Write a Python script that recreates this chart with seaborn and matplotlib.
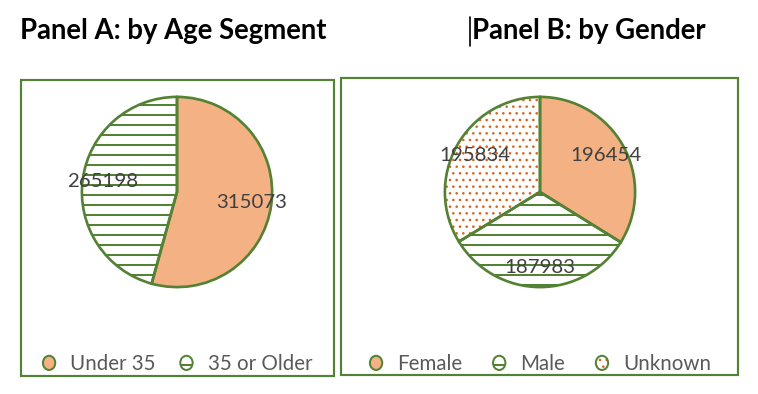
import numpy as np
import pandas as pd
import seaborn as sns
import matplotlib
matplotlib.use("Agg")
import matplotlib.pyplot as plt
from matplotlib import patches as mpatches
from matplotlib.legend_handler import HandlerBase
from matplotlib.lines import Line2D

# ---------------- data ----------------
age_categories = ["Under 35", "35 or Older"]
age_values = [315073, 265198]

gender_categories = ["Female", "Male", "Unknown"]
gender_values = [196454, 187983, 195834]

panel_titles = ["Panel A: by Age Segment", "Panel B: by Gender"]

# ---------------- style ----------------
sns.set_theme(style="white")
plt.rcParams["font.family"] = ["Lato", "DejaVu Sans"]
plt.rcParams["hatch.linewidth"] = 1.2

GREEN = "#548235"
ORANGE = "#F4B183"
DOT = "#D9661F"
LABEL_C = "#404040"
LEGEND_C = "#595959"

# fill style per category: (facecolor, hatch, hatch colour, hatch linewidth)
styles = {
    "Under 35": (ORANGE, None, ORANGE, 1.2),
    "35 or Older": ("white", "--", GREEN, 1.2),
    "Female": (ORANGE, None, ORANGE, 1.2),
    "Male": ("white", "--", GREEN, 1.2),
    "Unknown": ("white", "...", DOT, 0.75),
}

W, H, DPI = 758, 394, 120
fig = plt.figure(figsize=(W / DPI, H / DPI), dpi=DPI)
fig.patch.set_facecolor("white")


def fx(px):
    return px / W


def fy(py):
    return 1 - py / H


def set_hlw(p, lw):
    if hasattr(p, "set_hatch_linewidth"):
        p.set_hatch_linewidth(lw)
    else:
        p._hatch_linewidth = lw


class Mark:
    def __init__(self, face, hatch, hcol, hlw):
        self.face, self.hatch, self.hcol, self.hlw = face, hatch, hcol, hlw


class CircleHandler(HandlerBase):
    def create_artists(self, legend, h, xdescent, ydescent, width, height,
                       fontsize, trans):
        cx = width / 2 - xdescent
        cy = height / 2 - ydescent
        d = 7.4
        hatch = "..." if h.hatch == "..." else h.hatch
        fill = mpatches.Ellipse((cx, cy), d, d * 1.15, facecolor=h.face,
                                hatch=hatch, edgecolor=h.hcol, lw=0,
                                transform=trans)
        set_hlw(fill, h.hlw)
        edge = mpatches.Ellipse((cx, cy), d, d * 1.15, facecolor="none",
                                edgecolor=GREEN, lw=1.2, transform=trans)
        return [fill, edge]


def draw_panel(idx, cats, vals, box, center, title_x, colspace):
    # frame
    x0, x1, y0, y1 = box
    rect = mpatches.Rectangle((fx(x0), fy(y1)), fx(x1) - fx(x0), fy(y0) - fy(y1),
                              transform=fig.transFigure, fill=False,
                              edgecolor=GREEN, lw=1.3)
    fig.add_artist(rect)
    fig.text(fx(title_x), fy(39), panel_titles[idx],
             fontsize=16.5, fontweight="bold", color="black", va="baseline")

    cx, cy, r = center
    ax = fig.add_axes([fx(cx - r), fy(cy + r), fx(2 * r), fy(0) - fy(2 * r)])
    df = pd.DataFrame({"category": cats, "value": vals})
    faces = [styles[c][0] for c in df["category"]]
    wedges, _ = ax.pie(df["value"], startangle=90, counterclock=False,
                       colors=faces, wedgeprops=dict(lw=0))
    for w, c in zip(wedges, df["category"]):
        face, hatch, hcol, hlw = styles[c]
        if hatch:
            w.set_hatch(hatch)
            w.set_edgecolor(hcol)
            set_hlw(w, hlw)
    # outline
    ax.pie(df["value"], startangle=90, counterclock=False,
           colors=["none"] * len(df),
           wedgeprops=dict(lw=1.6, edgecolor=GREEN, fill=False))
    for w, v in zip(wedges, df["value"]):
        mid = np.deg2rad((w.theta1 + w.theta2) / 2)
        ax.text(0.79 * np.cos(mid), 0.79 * np.sin(mid), f"{v}",
                ha="center", va="center", fontsize=12.2, color=LABEL_C)
    ax.set_xlim(-1.02, 1.02)
    ax.set_ylim(-1.02, 1.02)
    ax.set_aspect("equal")
    ax.axis("off")

    handles = [Mark(*styles[c]) for c in cats]
    fig.legend(handles, cats, handler_map={Mark: CircleHandler()},
               loc="center", bbox_to_anchor=(fx(cx), fy(364)),
               ncol=len(cats), frameon=False, fontsize=12.3,
               labelcolor=LEGEND_C, handlelength=0.7, handleheight=0.8,
               handletextpad=0.68, columnspacing=colspace, borderpad=0)


draw_panel(0, age_categories, age_values, (21, 334, 80, 376), (177, 192, 97), 20, 1.15)
draw_panel(1, gender_categories, gender_values, (341, 738, 78, 375), (540, 192, 97), 472, 1.45)

# text cursor seen in the reference
fig.add_artist(Line2D([fx(470), fx(470)], [fy(17), fy(46)],
                      transform=fig.transFigure, color="black", lw=1.0))

fig.savefig("out.png", dpi=DPI, facecolor="white")
